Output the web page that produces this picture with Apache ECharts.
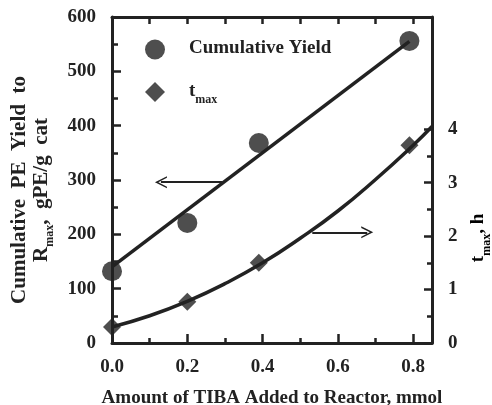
<!DOCTYPE html>
<html><head><meta charset="utf-8">
<script src="https://cdn.jsdelivr.net/npm/echarts@6/dist/echarts.min.js"></script>
<style>html,body{margin:0;padding:0;background:#fff}#c{width:492px;height:405px}</style>
</head><body><div id="c"></div>
<script>
// ---- data ----
const xTickValues = [0, 0.2, 0.4, 0.6, 0.8];
const xMinorTicks = [0.1, 0.3, 0.5, 0.7];
const xTopTicks = [0.1, 0.2, 0.3, 0.4, 0.5, 0.6, 0.7, 0.8];
const rightTickValues = [0, 1, 2, 3, 4];
const rightMinorTicks = [0.5, 1.5, 2.5, 3.5];

const yieldX = [0.0, 0.2, 0.39, 0.79];
const yieldY = [132, 221, 368, 556];
const tmaxX = [0.0, 0.2, 0.39, 0.79];
const tmaxY = [0.30, 0.77, 1.50, 3.70];

const yieldFitX = [0.0, 0.79];
const yieldFitY = [140, 555];
const tmaxFitX = [0.0, 0.1, 0.2, 0.3, 0.4, 0.5, 0.6, 0.7, 0.8, 0.85];
const tmaxFitY = [0.30, 0.51, 0.78, 1.11, 1.50, 1.96, 2.47, 3.06, 3.70, 4.05];

const arrowLeftX = [0.293, 0.130];
const arrowLeftY = 296;
const arrowRightX = [0.532, 0.678];
const arrowRightY = 2.07;

// ---- chart ----
const FONT = '"Liberation Serif", "Times New Roman", serif';
const INK = '#222';
const zip = (a, b) => a.map((v, i) => [v, b[i]]);
const chevron = 'path://M0,12 L7,0 L14,12 L12.2,12 L7,3.4 L1.8,12 Z';

const subRich = (size, sub, lead) => ({
  m: {fontFamily: FONT, fontWeight: 'bold', fontSize: size, color: INK, lineHeight: size + 2, verticalAlign: 'top'},
  f: {fontFamily: FONT, fontWeight: 'bold', fontSize: size, color: INK, lineHeight: size + 2, verticalAlign: 'top', padding: [0, 0, 0, lead || 0]},
  s: {fontFamily: FONT, fontWeight: 'bold', fontSize: sub, color: INK, lineHeight: sub, verticalAlign: 'top', padding: [Math.round(size * 0.62), 0, 0, 0]}
});

const chart = echarts.init(document.getElementById('c'), null, {renderer: 'canvas'});
chart.setOption({
  animation: false,
  backgroundColor: '#fff',
  textStyle: {fontFamily: FONT, color: INK},
  grid: {left: 112, top: 17, right: 60, bottom: 62, containLabel: false, outerBoundsMode: 'none'},
  legend: {
    orient: 'vertical', left: 145, top: 39, padding: 0, itemWidth: 20, itemHeight: 20, itemGap: 22,
    selectedMode: false,
    data: ['Cumulative Yield', 'tmax'],
    formatter: n => n === 'tmax' ? '{f|t}{s|max}' : '{f|Cumulative Yield}',
    textStyle: {fontFamily: FONT, fontWeight: 'bold', fontSize: 19, color: INK, rich: subRich(19, 12, 19)}
  },
  xAxis: [
    {type: 'value', position: 'bottom', min: 0, max: 0.85,
     axisLine: {show: true, onZero: false, lineStyle: {color: INK, width: 3}},
     axisTick: {show: true, inside: true, length: 9, lineStyle: {color: INK, width: 2.5}, customValues: xTickValues},
     axisLabel: {customValues: xTickValues, formatter: v => v.toFixed(1), fontFamily: FONT, fontWeight: 'bold', fontSize: 19, color: INK, margin: 15},
     splitLine: {show: false},
     name: 'Amount of TIBA Added to Reactor, mmol', nameLocation: 'middle', nameGap: 46,
     nameTextStyle: {fontFamily: FONT, fontWeight: 'bold', fontSize: 19, color: INK}},
    {type: 'value', position: 'bottom', min: 0, max: 0.85,
     axisLine: {show: false, onZero: false},
     axisTick: {show: true, inside: true, length: 5, lineStyle: {color: INK, width: 2.5}, customValues: xMinorTicks},
     axisLabel: {show: false}, splitLine: {show: false}},
    {type: 'value', position: 'top', min: 0, max: 0.85,
     axisLine: {show: true, onZero: false, lineStyle: {color: INK, width: 3}},
     axisTick: {show: true, inside: true, length: 7, lineStyle: {color: INK, width: 2.5}, customValues: xTopTicks},
     axisLabel: {show: false}, splitLine: {show: false}}
  ],
  yAxis: [
    {type: 'value', position: 'left', min: 0, max: 600, interval: 100,
     axisLine: {show: true, onZero: false, lineStyle: {color: INK, width: 3}},
     axisTick: {show: true, inside: true, length: 9, lineStyle: {color: INK, width: 2.5}},
     minorTick: {show: true, splitNumber: 2, length: 6, lineStyle: {color: INK, width: 2.5}},
     axisLabel: {fontFamily: FONT, fontWeight: 'bold', fontSize: 19, color: INK, margin: 16},
     splitLine: {show: false}, minorSplitLine: {show: false},
     name: 'Cumulative  PE  Yield  to\n{m|R}{s|max}{m|,  gPE/g  cat}',
     nameLocation: 'middle', nameRotate: 90, nameGap: 58,
     nameTextStyle: {fontFamily: FONT, fontWeight: 'bold', fontSize: 21, color: INK, lineHeight: 22, padding: [0, 20, 0, 0], rich: subRich(21, 12)}},
    {type: 'value', position: 'right', min: 0, max: 6.1,
     axisLine: {show: true, onZero: false, lineStyle: {color: INK, width: 3}},
     axisTick: {show: true, inside: true, length: 8, lineStyle: {color: INK, width: 2.5}, customValues: rightTickValues},
     axisLabel: {customValues: rightTickValues, fontFamily: FONT, fontWeight: 'bold', fontSize: 19, color: INK, margin: 16},
     splitLine: {show: false}},
    {type: 'value', position: 'right', min: 0, max: 6.1,
     axisLine: {show: false, onZero: false},
     axisTick: {show: true, inside: true, length: 5, lineStyle: {color: INK, width: 2.5}, customValues: rightMinorTicks},
     axisLabel: {show: false}, splitLine: {show: false}}
  ],
  graphic: [{
    type: 'text', x: 479, y: 238, rotation: Math.PI / 2,
    style: {text: '{m|t}{s|max}{m|, h}', align: 'center', verticalAlign: 'middle', rich: subRich(19, 12)}
  }],
  series: [
    {name: 'Cumulative Yield', type: 'scatter', xAxisIndex: 0, yAxisIndex: 0, symbol: 'circle', symbolSize: 20,
     itemStyle: {color: INK}, clip: false, z: 5, data: zip(yieldX, yieldY)},
    {name: 'yieldFit', type: 'line', xAxisIndex: 0, yAxisIndex: 0, showSymbol: false, symbol: 'none',
     lineStyle: {color: INK, width: 3.5}, clip: false, data: zip(yieldFitX, yieldFitY),
     markLine: {silent: true, symbol: ['none', chevron], symbolSize: [12, 12], label: {show: false},
       lineStyle: {color: INK, width: 2, type: 'solid'},
       data: [[{coord: [arrowLeftX[0], arrowLeftY]}, {coord: [arrowLeftX[1], arrowLeftY]}]]}},
    {name: 'tmax', type: 'scatter', xAxisIndex: 0, yAxisIndex: 1, symbol: 'diamond', symbolSize: 18,
     itemStyle: {color: INK}, clip: false, z: 5, data: zip(tmaxX, tmaxY)},
    {name: 'tmaxFit', type: 'line', xAxisIndex: 0, yAxisIndex: 1, smooth: true, showSymbol: false, symbol: 'none',
     lineStyle: {color: INK, width: 3.5}, clip: false, data: zip(tmaxFitX, tmaxFitY),
     markLine: {silent: true, symbol: ['none', chevron], symbolSize: [12, 12], label: {show: false},
       lineStyle: {color: INK, width: 2, type: 'solid'},
       data: [[{coord: [arrowRightX[0], arrowRightY]}, {coord: [arrowRightX[1], arrowRightY]}]]}}
  ]
});
</script></body></html>
